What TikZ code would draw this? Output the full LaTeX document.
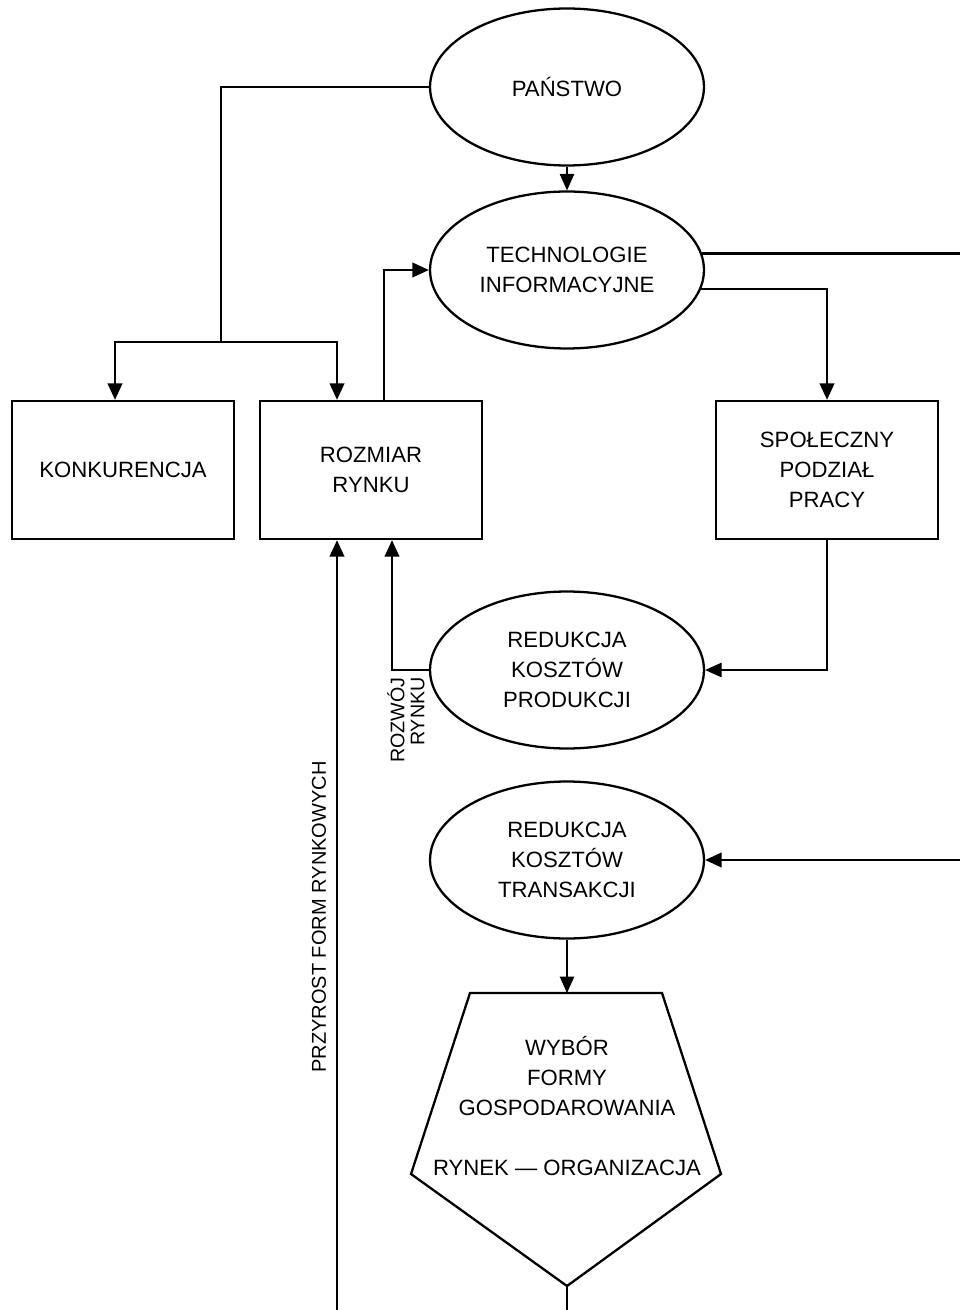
\documentclass[tikz,border=0pt]{standalone}
\usepackage{fontspec}
\setmainfont{Liberation Sans}
\usetikzlibrary{arrows.meta,shapes.geometric}

\begin{document}
\begin{tikzpicture}[x=0.02cm, y=-0.02cm,
  oval/.style={ellipse, draw, line width=1.3pt, minimum width=5.48cm, minimum height=3.14cm, inner sep=0pt, align=center, font=\fontsize{12.6}{17}\selectfont},
  box/.style={rectangle, draw, line width=1.3pt, minimum width=4.44cm, minimum height=2.76cm, inner sep=0pt, align=center, font=\fontsize{12.6}{17}\selectfont},
  plain/.style={line width=1.3pt},
  link/.style={line width=1.3pt, -{Triangle[length=3.3mm,width=2.9mm]}},
  thinlink/.style={line width=0.65pt, -{Triangle[length=3.3mm,width=2.9mm]}},
  tag/.style={rotate=90, inner sep=0pt, align=right, font=\fontsize{11.2}{11.4}\selectfont}]
			\useasboundingbox (0,0) rectangle (960,1310);
			% ovals and boxes
			\node[oval] (state) at (567,87) {PAŃSTWO};
			\node[oval] (tech) at (567,270) {TECHNOLOGIE\\INFORMACYJNE};
			\node[box] (konk) at (123,470) {KONKURENCJA};
			\node[box] (size) at (371,470) {ROZMIAR\\RYNKU};
			\node[box] (labour) at (827,470) {SPOŁECZNY\\PODZIAŁ\\PRACY};
			\node[oval] (prod) at (567,670) {REDUKCJA\\KOSZTÓW\\PRODUKCJI};
			\node[oval] (trans) at (567,860) {REDUKCJA\\KOSZTÓW\\TRANSAKCJI};
			% choice pentagon
			\draw[plain] (470,993) -- (662,993) -- (721,1174) -- (567,1286) coordinate (choicebot) -- (411,1174) -- cycle;
			\coordinate (choicetop) at (567,993);
			\node[align=center, font=\fontsize{12.6}{17}\selectfont] (choice) at (567,1106) {WYBÓR\\FORMY\\GOSPODAROWANIA\\[17pt]RYNEK — ORGANIZACJA};
			% labels
			\node[tag, font=\fontsize{11.4}{13}\selectfont] (growthlbl) at (319,917) {PRZYROST FORM RYNKOWYCH};
			\node[tag] (devlbl) at (406,720) {ROZWÓJ\\RYNKU};
			% free ends at the page edge
			\coordinate (split) at (221,342);
			\coordinate (rimtop) at (960,254);
			\coordinate (rimlow) at (960,860);
			\coordinate (growth) at (337,1310);
			\coordinate (exit) at (567,1310);
			% connectors
			\draw[thinlink] (state) -- (tech);
			\draw[plain] (state.west) -| (split);
			\draw[link] (split) -| ([xshift=-0.16cm]konk.north);
			\draw[link] (split) -| ([xshift=-0.68cm]size.north);
			\draw[link] ([xshift=0.26cm]size.north) |- (tech.west);
			\draw[plain] (tech.7) -- (tech.7 -| rimtop);
			\draw[link] (tech.-8) -| (labour.north);
			\draw[thinlink] (labour.south) |- (prod.east);
			\draw[link] (prod.west) -| ([xshift=0.42cm]size.south);
			\draw[link] (growth) -- (growth |- size.south);
			\draw[link] (rimlow) -- (trans.east);
			\draw[thinlink] (trans) -- (choicetop);
			\draw[plain] (choicebot) -- (exit);
		\end{tikzpicture}
\end{document}
